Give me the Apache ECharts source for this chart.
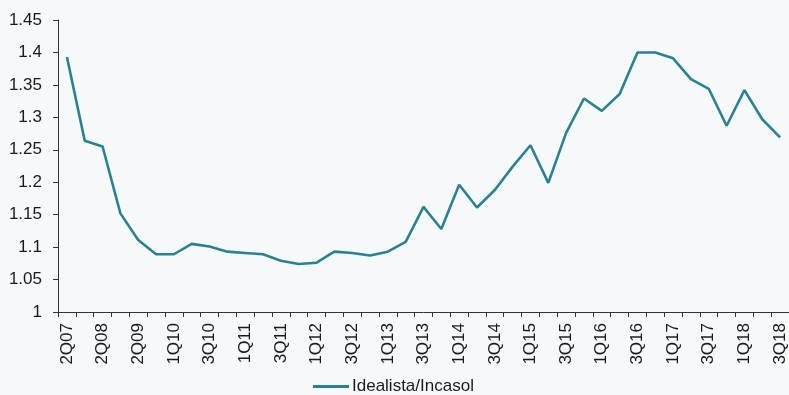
<!DOCTYPE html>
<html>
<head>
<meta charset="utf-8">
<script src="https://cdn.jsdelivr.net/npm/echarts@6/dist/echarts.min.js"></script>
<style>
  html, body { margin: 0; padding: 0; background: #f5f9fa; }
  #chart { width: 789px; height: 395px; }
</style>
</head>
<body>
<div id="chart"></div>
<script>
// Periods: half-yearly until 2009, quarterly from 1Q10
const periods = [
  '2Q07', '4Q07', '2Q08', '4Q08', '2Q09', '4Q09',
  '1Q10', '2Q10', '3Q10', '4Q10',
  '1Q11', '2Q11', '3Q11', '4Q11',
  '1Q12', '2Q12', '3Q12', '4Q12',
  '1Q13', '2Q13', '3Q13', '4Q13',
  '1Q14', '2Q14', '3Q14', '4Q14',
  '1Q15', '2Q15', '3Q15', '4Q15',
  '1Q16', '2Q16', '3Q16', '4Q16',
  '1Q17', '2Q17', '3Q17', '4Q17',
  '1Q18', '2Q18', '3Q18'
];

const seriesName = 'Idealista/Incasol';
const ratio = [
  1.393, 1.264, 1.255, 1.152, 1.111, 1.089,
  1.089, 1.105, 1.101, 1.093,
  1.091, 1.089, 1.079, 1.074,
  1.076, 1.093, 1.091, 1.087,
  1.093, 1.108, 1.162, 1.128,
  1.196, 1.161, 1.188, 1.224,
  1.257, 1.199, 1.276, 1.329,
  1.310, 1.336, 1.400, 1.400,
  1.391, 1.359, 1.344, 1.287,
  1.342, 1.297, 1.269
];

const yMin = 1, yMax = 1.45, yStep = 0.05;

const font = 'Arial, "Liberation Sans", sans-serif';
const ink = '#1a1a1a';
const teal = '#2b8192';

const chart = echarts.init(document.getElementById('chart'), null, { renderer: 'canvas' });
chart.setOption({
  backgroundColor: '#f5f9fa',
  animation: false,
  grid: { left: 58, right: -4, top: 20, bottom: 83, containLabel: false },
  legend: {
    data: [{ name: seriesName, icon: 'rect' }],
    left: 313,
    top: 378,
    padding: 0,
    itemWidth: 36,
    itemHeight: 3,
    itemGap: 10,
    textStyle: { fontFamily: font, fontSize: 17, color: ink, padding: [0, 0, 0, -2] }
  },
  xAxis: {
    type: 'category',
    data: periods,
    boundaryGap: true,
    axisLine: { lineStyle: { color: '#333', width: 1 } },
    axisTick: { show: true, interval: 0, length: 5, lineStyle: { color: '#333' } },
    axisLabel: {
      interval: 1,
      rotate: 90,
      margin: 11,
      fontFamily: font,
      fontSize: 17,
      color: ink
    },
    splitLine: { show: false }
  },
  yAxis: {
    type: 'value',
    min: yMin,
    max: yMax,
    interval: yStep,
    axisLine: { show: true, lineStyle: { color: '#333', width: 1 } },
    axisTick: { show: true, length: 5, lineStyle: { color: '#333' } },
    axisLabel: {
      margin: 16,
      fontFamily: font,
      fontSize: 17,
      color: ink,
      formatter: v => String(parseFloat(v.toFixed(2)))
    },
    splitLine: { show: false }
  },
  series: [{
    name: seriesName,
    type: 'line',
    data: ratio,
    showSymbol: false,
    symbol: 'none',
    lineStyle: { color: teal, width: 2.6 },
    itemStyle: { color: teal }
  }]
});
</script>
</body>
</html>
